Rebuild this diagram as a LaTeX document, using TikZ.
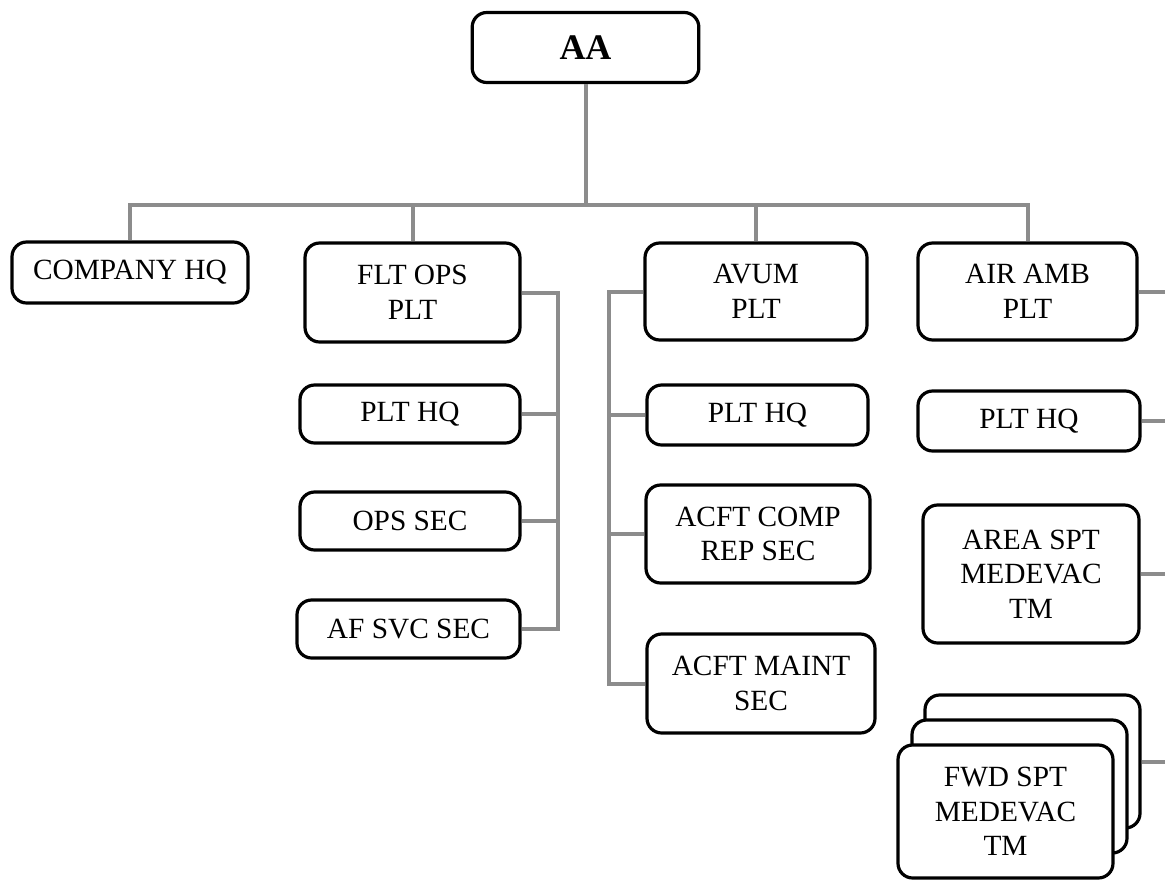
\documentclass[tikz,border=0pt]{standalone}
\usepackage{fontspec}
\setmainfont{Liberation Serif}
\usepackage{tikz}
\usetikzlibrary{positioning}

\definecolor{linkgray}{RGB}{140,140,140}

\tikzset{
  unitbox/.style={draw=black, fill=white, line width=2.4pt, rounded corners=11pt, align=center, inner sep=0pt, font=\fontsize{22}{26}\selectfont},
  link/.style={draw=linkgray, line width=3pt}
}

\begin{document}
\begin{tikzpicture}[x=0.75pt,y=0.75pt,yscale=-1,xscale=1]
\useasboundingbox (0,0) rectangle (1165,881);

%Top box
\node[unitbox, minimum width=170pt, minimum height=52.5pt, font=\fontsize{27}{31}\selectfont\bfseries] (aa) at (585.5,47.5) {AA};

%Second row
\node[unitbox, minimum width=177pt, minimum height=45.75pt] (cohq) at (130,272.5) {COMPANY HQ};
\node[unitbox, minimum width=161.25pt, minimum height=74.25pt] (fltops) at (412.5,292.5) {FLT OPS\\PLT};
\node[unitbox, minimum width=166.5pt, minimum height=72.75pt] (avum) at (756,291.5) {AVUM\\PLT};
\node[unitbox, minimum width=164.25pt, minimum height=72.75pt] (airamb) at (1027.5,291.5) {AIR AMB\\PLT};

%FLT OPS PLT sections
\node[unitbox, minimum width=165pt, minimum height=43.5pt] (fltplthq) at (410,414) {PLT HQ};
\node[unitbox, minimum width=165pt, minimum height=43.5pt] (opssec) at (410,521) {OPS SEC};
\node[unitbox, minimum width=167.25pt, minimum height=43.5pt] (afsvc) at (408.5,629) {AF SVC SEC};

%AVUM PLT sections
\node[unitbox, minimum width=165.75pt, minimum height=45pt] (avumplthq) at (757.5,415) {PLT HQ};
\node[unitbox, minimum width=168pt, minimum height=73.5pt] (compsec) at (758,534) {ACFT COMP\\REP SEC};
\node[unitbox, minimum width=171pt, minimum height=74.25pt] (maintsec) at (761,683.5) {ACFT MAINT\\SEC};

%AIR AMB PLT sections
\node[unitbox, minimum width=166.5pt, minimum height=45pt] (ambplthq) at (1029,421) {PLT HQ};
\node[unitbox, minimum width=162pt, minimum height=103.5pt] (areaspt) at (1031,574) {AREA SPT\\MEDEVAC\\TM};

%Stacked teams
\node[unitbox, minimum width=161.25pt, minimum height=99.75pt] (fwdc) at (1032.5,761.5) {};
\node[unitbox, minimum width=161.25pt, minimum height=99.75pt] (fwdb) at (1019.5,786.5) {};
\node[unitbox, minimum width=161.25pt, minimum height=99.75pt] (fwda) at (1005.5,811.5) {FWD SPT\\MEDEVAC\\TM};

%Rails
\coordinate (bus) at (585.5,205);
\coordinate (fltrail) at (558,292.5);
\coordinate (avumrail) at (609,291.5);
\coordinate (edge) at (1170,0);

%Connectors
\draw[link] (aa.south) -- (aa.south |- bus);
\draw[link] (cohq.north) |- (bus) -| (airamb.north);
\draw[link] (fltops.north) -- (fltops.north |- bus);
\draw[link] (avum.north) -- (avum.north |- bus);

\draw[link] (fltops.east) -- (fltrail) |- (afsvc.east);
\draw[link] (fltplthq.east) -- (fltplthq.east -| fltrail);
\draw[link] (opssec.east) -- (opssec.east -| fltrail);

\draw[link] (avum.west) -- (avumrail) |- (maintsec.west);
\draw[link] (avumplthq.west) -- (avumplthq.west -| avumrail);
\draw[link] (compsec.west) -- (compsec.west -| avumrail);

\draw[link] (airamb.east) -- (airamb.east -| edge);
\draw[link] (ambplthq.east) -- (ambplthq.east -| edge);
\draw[link] (areaspt.east) -- (areaspt.east -| edge);
\draw[link] (fwdc.east) -- (fwdc.east -| edge);

\end{tikzpicture}
\end{document}
